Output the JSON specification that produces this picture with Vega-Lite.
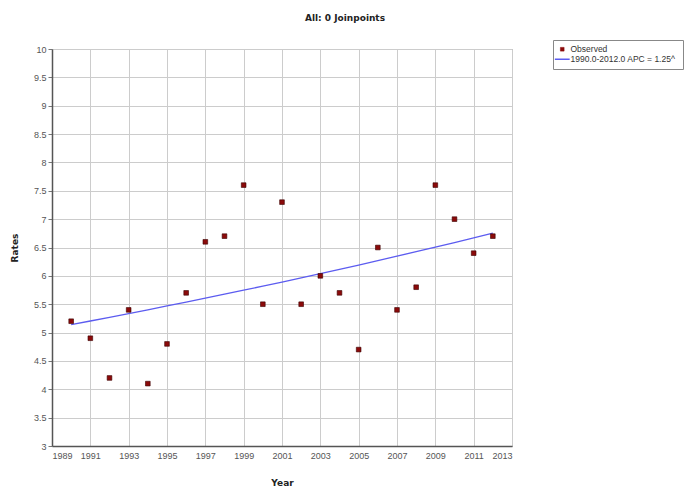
{
  "$schema": "https://vega.github.io/schema/vega-lite/v6.json",
  "autosize": {"type": "none"},
  "padding": {"left": 52, "top": 49, "right": 177, "bottom": 41},
  "width": 460,
  "height": 397,
  "background": "white",
  "title": {
    "text": "All: 0 Joinpoints",
    "anchor": "middle",
    "frame": "group",
    "dx": 63,
    "offset": 17,
    "font": "DejaVu Sans",
    "fontSize": 9,
    "fontWeight": "bold",
    "color": "#222222"
  },
  "config": {
    "view": {"stroke": "#999999", "strokeWidth": 1},
    "axis": {
      "labelFont": "Liberation Sans",
      "labelFontSize": 9,
      "labelColor": "#555555",
      "titleFont": "DejaVu Sans",
      "titleFontSize": 9,
      "titleFontWeight": "bold",
      "titleColor": "#222222",
      "gridColor": "#cccccc",
      "gridWidth": 1,
      "domainColor": "#555555",
      "domainWidth": 1.5,
      "tickColor": "#777777",
      "tickSize": 4
    }
  },
  "datasets": {
    "observed": [
      {"year": 1990, "rate": 5.2, "series": "Observed"},
      {"year": 1991, "rate": 4.9, "series": "Observed"},
      {"year": 1992, "rate": 4.2, "series": "Observed"},
      {"year": 1993, "rate": 5.4, "series": "Observed"},
      {"year": 1994, "rate": 4.1, "series": "Observed"},
      {"year": 1995, "rate": 4.8, "series": "Observed"},
      {"year": 1996, "rate": 5.7, "series": "Observed"},
      {"year": 1997, "rate": 6.6, "series": "Observed"},
      {"year": 1998, "rate": 6.7, "series": "Observed"},
      {"year": 1999, "rate": 7.6, "series": "Observed"},
      {"year": 2000, "rate": 5.5, "series": "Observed"},
      {"year": 2001, "rate": 7.3, "series": "Observed"},
      {"year": 2002, "rate": 5.5, "series": "Observed"},
      {"year": 2003, "rate": 6.0, "series": "Observed"},
      {"year": 2004, "rate": 5.7, "series": "Observed"},
      {"year": 2005, "rate": 4.7, "series": "Observed"},
      {"year": 2006, "rate": 6.5, "series": "Observed"},
      {"year": 2007, "rate": 5.4, "series": "Observed"},
      {"year": 2008, "rate": 5.8, "series": "Observed"},
      {"year": 2009, "rate": 7.6, "series": "Observed"},
      {"year": 2010, "rate": 7.0, "series": "Observed"},
      {"year": 2011, "rate": 6.4, "series": "Observed"},
      {"year": 2012, "rate": 6.7, "series": "Observed"}
    ],
    "modeled": [
      {"year": 1990, "rate": 5.140, "series": "1990.0-2012.0 APC  = 1.25^"},
      {"year": 1991, "rate": 5.204, "series": "1990.0-2012.0 APC  = 1.25^"},
      {"year": 1992, "rate": 5.269, "series": "1990.0-2012.0 APC  = 1.25^"},
      {"year": 1993, "rate": 5.335, "series": "1990.0-2012.0 APC  = 1.25^"},
      {"year": 1994, "rate": 5.401, "series": "1990.0-2012.0 APC  = 1.25^"},
      {"year": 1995, "rate": 5.469, "series": "1990.0-2012.0 APC  = 1.25^"},
      {"year": 1996, "rate": 5.537, "series": "1990.0-2012.0 APC  = 1.25^"},
      {"year": 1997, "rate": 5.606, "series": "1990.0-2012.0 APC  = 1.25^"},
      {"year": 1998, "rate": 5.676, "series": "1990.0-2012.0 APC  = 1.25^"},
      {"year": 1999, "rate": 5.747, "series": "1990.0-2012.0 APC  = 1.25^"},
      {"year": 2000, "rate": 5.819, "series": "1990.0-2012.0 APC  = 1.25^"},
      {"year": 2001, "rate": 5.891, "series": "1990.0-2012.0 APC  = 1.25^"},
      {"year": 2002, "rate": 5.965, "series": "1990.0-2012.0 APC  = 1.25^"},
      {"year": 2003, "rate": 6.039, "series": "1990.0-2012.0 APC  = 1.25^"},
      {"year": 2004, "rate": 6.115, "series": "1990.0-2012.0 APC  = 1.25^"},
      {"year": 2005, "rate": 6.191, "series": "1990.0-2012.0 APC  = 1.25^"},
      {"year": 2006, "rate": 6.268, "series": "1990.0-2012.0 APC  = 1.25^"},
      {"year": 2007, "rate": 6.347, "series": "1990.0-2012.0 APC  = 1.25^"},
      {"year": 2008, "rate": 6.426, "series": "1990.0-2012.0 APC  = 1.25^"},
      {"year": 2009, "rate": 6.506, "series": "1990.0-2012.0 APC  = 1.25^"},
      {"year": 2010, "rate": 6.588, "series": "1990.0-2012.0 APC  = 1.25^"},
      {"year": 2011, "rate": 6.670, "series": "1990.0-2012.0 APC  = 1.25^"},
      {"year": 2012, "rate": 6.753, "series": "1990.0-2012.0 APC  = 1.25^"}
    ]
  },
  "encoding": {
    "x": {
      "field": "year",
      "type": "quantitative",
      "title": "Year",
      "scale": {"domain": [1989, 2013], "nice": false, "zero": false},
      "axis": {
        "values": [1989, 1991, 1993, 1995, 1997, 1999, 2001, 2003, 2005, 2007, 2009, 2011, 2013],
        "format": "d",
        "labelPadding": 5,
        "titlePadding": 18,
        "tickSize": 0
      }
    },
    "y": {
      "field": "rate",
      "type": "quantitative",
      "title": "Rates",
      "scale": {"domain": [3, 10], "nice": false, "zero": false},
      "axis": {
        "values": [3, 3.5, 4, 4.5, 5, 5.5, 6, 6.5, 7, 7.5, 8, 8.5, 9, 9.5, 10],
        "format": "~g",
        "labelPadding": 2,
        "titlePadding": 14
      }
    },
    "color": {
      "field": "series",
      "type": "nominal",
      "scale": {
        "domain": ["Observed", "1990.0-2012.0 APC  = 1.25^"],
        "range": ["#8b0a0a", "#5c5cf0"]
      },
      "legend": {
        "title": null,
        "orient": "none",
        "legendX": 501,
        "legendY": -9,
        "strokeColor": "#888888",
        "fillColor": "white",
        "padding": 5,
        "rowPadding": 1,
        "labelFont": "Liberation Sans",
        "labelFontSize": 8.5,
        "labelColor": "#333333",
        "symbolSize": 150,
        "encode": {
          "symbols": {
            "update": {
              "shape": {"signal": "datum.value === 'Observed' ? 'square' : 'stroke'"},
              "size": {"signal": "datum.value === 'Observed' ? 14 : 220"},
              "fill": {"signal": "datum.value === 'Observed' ? '#8b0a0a' : 'transparent'"},
              "stroke": {"signal": "datum.value === 'Observed' ? '#4a0000' : '#5c5cf0'"},
              "strokeWidth": {"signal": "datum.value === 'Observed' ? 0.5 : 1.5"}
            }
          }
        }
      }
    }
  },
  "layer": [
    {
      "data": {"name": "modeled"},
      "mark": {"type": "line", "strokeWidth": 1.3}
    },
    {
      "data": {"name": "observed"},
      "mark": {"type": "square", "filled": true, "size": 22, "opacity": 1, "stroke": "#3a0000", "strokeWidth": 0.6}
    }
  ]
}
